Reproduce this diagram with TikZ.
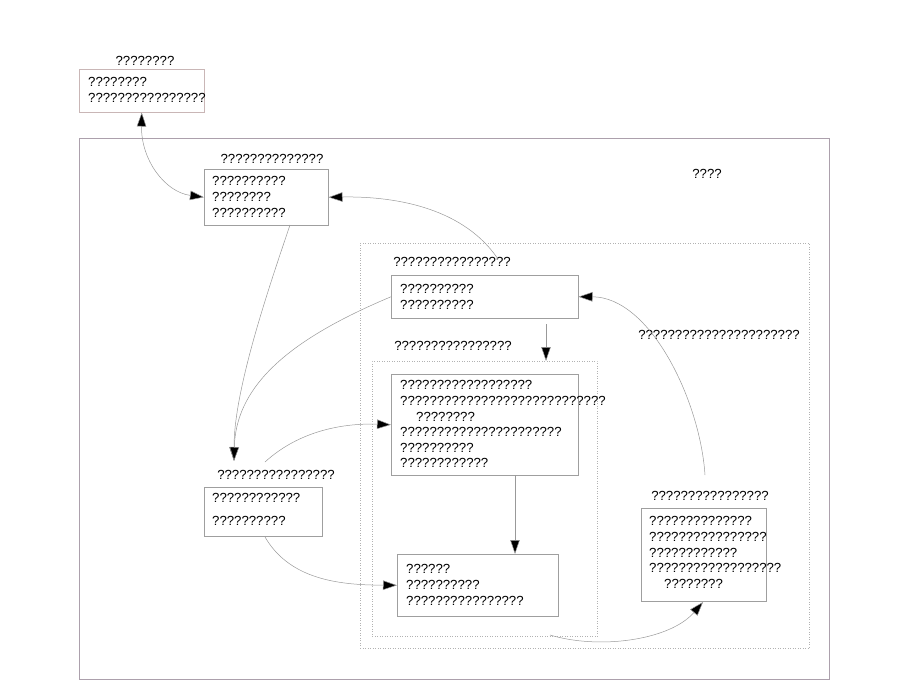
\documentclass[tikz,border=0pt]{standalone}
\usepackage{fontspec}
\setmainfont{Liberation Sans}
\usetikzlibrary{arrows.meta}
\begin{document}
\begin{tikzpicture}[x=1pt,y=-1pt,
  box/.style={draw=gray!75, line width=0.5pt, inner sep=0, anchor=north west},
  pinkbox/.style={draw=red!15!gray!50, line width=0.5pt, inner sep=0, anchor=north west},
  container/.style={draw=gray!60, line width=0.5pt, dotted, inner sep=0, anchor=north west},
  outer/.style={draw=violet!15!gray!65, line width=0.5pt, inner sep=0, anchor=north west},
  txt/.style={inner sep=0, anchor=north west, align=left, font=\fontsize{13.2}{15.6}\selectfont},
  lab/.style={inner sep=0, font=\fontsize{13.2}{15.6}\selectfont},
  edge/.style={draw=gray!80, line width=0.5pt},
  arr/.style={edge, -{Triangle[length=14pt,width=9.5pt,fill=black]}},
  biarr/.style={edge, {Triangle[length=14pt,width=9.5pt,fill=black]}-{Triangle[length=14pt,width=9.5pt,fill=black]}}
]
\useasboundingbox (0,0) rectangle (920,690);

% outer container
\node[outer, minimum width=750pt, minimum height=541pt] (outerbox) at (79,138) {};
\node[lab] (outerlab) at (707,174) {????};

% top box
\node[lab] (b1lab) at (145,61) {????????};
\node[pinkbox, minimum width=125pt, minimum height=43pt] (b1) at (79,69) {};
\node[txt] (b1t) at (88,77.5) {????????\\????????????????};

% node A
\node[lab] (alab) at (272,159) {??????????????};
\node[box, minimum width=124pt, minimum height=56pt] (a) at (204,169) {};
\node[txt] (at) at (212,176.5) {??????????\\????????\\??????????};

% container C1
\node[container, minimum width=449pt, minimum height=405pt] (c1) at (360,243) {};
\node[lab] (c1lab) at (452,262) {????????????????};

% node B
\node[box, minimum width=187pt, minimum height=43pt] (b) at (391,275) {};
\node[txt] (bt) at (400,284.5) {??????????\\??????????};

% container C2
\node[lab] (c2lab) at (453,346) {????????????????};
\node[container, minimum width=225pt, minimum height=275pt] (c2) at (372,361) {};

% node D
\node[box, minimum width=187pt, minimum height=101pt] (d) at (391,374) {};
\node[txt] (dt) at (400,380.5) {??????????????????\\????????????????????????????\\\hspace*{16pt}????????\\??????????????????????\\??????????\\????????????};

% node E
\node[box, minimum width=161pt, minimum height=62pt] (e) at (397,554) {};
\node[txt] (et) at (406,564.5) {??????\\??????????\\????????????????};

% node F
\node[lab] (flab) at (276,475) {????????????????};
\node[box, minimum width=118pt, minimum height=49pt] (f) at (204,487) {};
\node[txt, font=\fontsize{13.2}{23}\selectfont] (ft) at (212,493.5) {????????????\\??????????};

% node G
\node[lab] (glab) at (710,496) {????????????????};
\node[box, minimum width=125pt, minimum height=93pt] (g) at (641,508) {};
\node[txt] (gt) at (649,516.5) {??????????????\\????????????????\\????????????\\??????????????????\\\hspace*{15pt}????????};

% edge label
\node[lab] (elab) at (719,335) {??????????????????????};

% helper coordinates
\coordinate (fin) at (234,461);
\coordinate (fout) at (265,462);
\coordinate (c1out) at (498,259);
\coordinate (gout) at (705,475);
\coordinate (c2out) at (550,635);
\coordinate (bdown) at (546,324);
\coordinate (c2in) at (546,361);
\coordinate (dout) at (515,475);
\coordinate (ein) at (515,554);
\coordinate (gin) at (703,602);
\coordinate (aout) at (290,225);
\coordinate (fbot) at (265,537);

% edges
\draw[biarr] (b1.south) .. controls (141,160) and (165,192) .. (a.west);
\draw[arr] (c1out) .. controls (465,210) and (400,196) .. (a.east);
\draw[arr] (aout) .. controls (268,290) and (234,390) .. (fin);
\draw[arr] (b.west) .. controls (300,335) and (236,380) .. (fin);
\draw[arr] (fout) .. controls (300,430) and (345,423) .. (d.west);
\draw[arr] (fbot) .. controls (290,580) and (340,585) .. (e.west);
\draw[arr] (bdown) -- (c2in);
\draw[arr] (dout) -- (ein);
\draw[arr] (c2out) .. controls (600,650) and (670,640) .. (gin);
\draw[arr] (gout) .. controls (700,400) and (650,297) .. (b.east);
\end{tikzpicture}
\end{document}
